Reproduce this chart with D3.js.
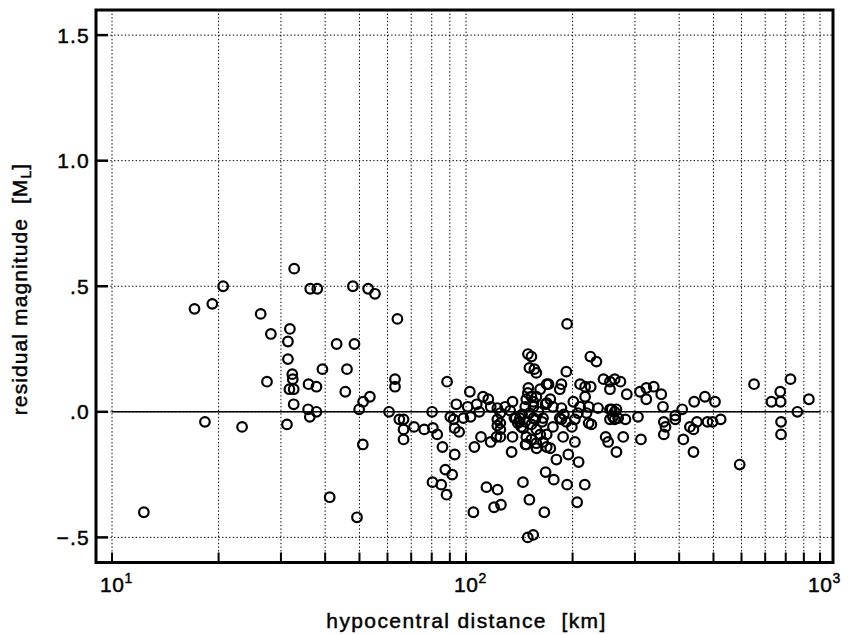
<!DOCTYPE html>
<html>
<head>
<meta charset="utf-8">
<script src="https://cdn.jsdelivr.net/npm/d3@7"></script>
<style>
  body { margin: 0; background: #fff; }
  text { font-family: "Liberation Sans", Arial, Helvetica, sans-serif; fill: #000; stroke: #000; stroke-width: 0.45px; }
</style>
</head>
<body>
<div id="chart"></div>
<script>
// hypocentral distance [km] and residual magnitude
var distance = [
    12.3, 17.1, 18.3, 19.2, 20.6, 23.3, 26.3, 27.4, 28.1,
    31.4, 31.4, 31.8, 31.2, 31.7, 32.6, 32.3, 32.4, 32.6, 32.7,
    35.9, 35.8, 36.2, 36.3, 37.8, 37.8, 38.0, 39.3,
    41.2, 43.1, 45.6, 46.1, 47.9, 48.4, 49.2, 49.9, 51.1, 51.2, 52.9, 53.5, 55.3,
    60.6, 63.0, 63.0, 64.0, 64.8, 66.6, 66.6, 66.6, 71.3, 76.2,
    80.2, 80.6, 80.4, 82.9, 85.1, 85.8, 87.4, 88.1, 88.4, 90.3, 91.4, 92.2, 92.9, 92.9, 93.9, 95.6, 98.3,
    101.1, 102.5, 103, 104.9, 105.6, 107.2, 109, 110.2, 111.7, 114.2, 115.6, 117.4, 117.4, 120, 121.9, 122.6, 122.6, 122.6, 122.8, 125.5,
    125, 125, 125, 125, 129,
    133.2, 135.3, 135.3, 134.5, 137, 138.2, 140, 141.8, 142, 143.3, 144, 144.8, 145, 147, 147, 147.3, 148, 148, 148,
    149.4, 149.5, 149.6, 150, 151, 151, 151, 153, 153, 153, 153, 154.8, 155, 155, 155, 156, 157, 158, 158, 158, 158, 158.2,
    160, 162, 162, 164, 165, 165, 166.4, 167.8, 167.8, 169, 169, 169, 169, 171, 173, 173, 176, 176, 177, 180,
    184, 184, 186, 186, 186, 188, 189, 192, 192, 193, 193, 194.5, 199, 201, 203, 203, 206, 207, 208, 210, 210,
    216.5, 217, 217, 219, 222, 222, 224.5, 225, 226, 233.5, 236,
    244.5, 248, 252, 255, 255, 255, 255, 258, 260, 263, 263, 263, 266, 266, 269, 273, 278, 282, 284.5,
    306, 310, 312, 323, 323, 339, 356, 360, 362, 362, 366, 390, 390, 408, 411, 429, 439, 439, 441, 449,
    473, 481, 497, 505, 524,
    593, 651, 729, 772, 774, 776, 776, 825, 863, 930
];
var residual = [
    -0.40, 0.41, -0.04, 0.43, 0.50, -0.06, 0.39, 0.12, 0.31,
    0.28, 0.21, 0.33, -0.05, 0.09, 0.09, 0.15, 0.13, 0.03, 0.57,
    0.11, 0.01, -0.02, 0.49, 0.10, 0.00, 0.49, 0.17,
    -0.34, 0.27, 0.08, 0.17, 0.50, 0.27, -0.42, 0.01, -0.13, 0.04, 0.49, 0.06, 0.47,
    0.00, 0.13, 0.10, 0.37, -0.03, -0.03, -0.07, -0.11, -0.06, -0.07,
    0.00, -0.064, -0.28, -0.09, -0.29, -0.14, -0.23, -0.33, 0.12, -0.02, -0.25, -0.03, -0.065, -0.17, 0.03, -0.08, -0.025,
    0.02, 0.08, -0.02, -0.40, -0.14, 0.03, 0.00, -0.10, 0.06, -0.30, 0.05, 0.02, -0.12, -0.38, -0.10, 0.015, -0.03, -0.055, -0.31, -0.37,
    -0.005, -0.045, -0.07, -0.10, 0.02,
    0.005, 0.04, -0.10, -0.16, -0.025, -0.025, -0.045, -0.04, -0.025, -0.06, -0.01, -0.28, -0.065, 0.02, -0.04, -0.13, 0.05, -0.10, -0.13,
    -0.50, 0.075, 0.23, 0.095, -0.35, -0.005, 0.175, 0.22, 0.06, -0.05, -0.11, -0.49, 0.04, 0.02, -0.025, 0.17, -0.03, 0.155, 0.06, -0.07, -0.125, -0.145,
    0.00, 0.09, -0.09, -0.04, -0.025, -0.12, -0.40, -0.24, 0.03, 0.11, 0.035, -0.09, -0.14, 0.11, 0.05, -0.145, 0.02, -0.06, -0.27, -0.19,
    0.09, -0.025, 0.11, 0.015, -0.03, -0.10, -0.01, 0.16, -0.04, 0.35, -0.29, -0.17, -0.06, 0.04, -0.03, -0.12, -0.36, -0.005, -0.20, 0.11, 0.02,
    -0.29, 0.10, 0.06, -0.005, 0.02, -0.045, 0.22, 0.10, -0.05, 0.20, 0.015,
    0.13, -0.10, -0.12, 0.12, 0.09, 0.01, -0.03, 0.01, -0.02, 0.13, 0.00, -0.03, 0.01, -0.16, -0.025, 0.12, -0.10, -0.03, 0.07,
    -0.02, 0.08, -0.11, 0.095, 0.05, 0.10, 0.07, 0.02, -0.04, -0.09, -0.06, -0.015, -0.03, 0.01, -0.11, -0.06, -0.07, -0.16, 0.04, -0.04,
    0.06, -0.04, -0.04, 0.04, -0.03,
    -0.21, 0.11, 0.04, 0.08, 0.04, -0.04, -0.09, 0.13, 0.00, 0.05
];

var yTicks = [-0.5, 0, 0.5, 1.0, 1.5];
var yTickLabels = ["\u2212.5", ".0", ".5", "1.0", "1.5"];
var xDecades = [1, 2, 3];

function init() {
    const w = 854;
    const h = 635;
    const left = 96, right = 833, top = 10, bottom = 562.5;

    var x = d3.scaleLog().domain([9.01, 1088]).range([left, right]);
    var y = d3.scaleLinear().domain([-0.6, 1.6]).range([bottom, top]);

    var svg = d3.select("#chart")
        .append("svg")
        .attr("width", w)
        .attr("height", h);

    svg.append("rect").attr("width", w).attr("height", h).attr("fill", "#fff");

    // dotted grid
    var grid = svg.append("g")
        .attr("stroke", "#000")
        .attr("stroke-width", 1)
        .attr("stroke-dasharray", "1.4,2.2");

    grid.selectAll("line.vx")
        .data(x.ticks())
        .enter()
        .append("line")
        .attr("x1", d => x(d)).attr("x2", d => x(d))
        .attr("y1", top).attr("y2", bottom);

    grid.selectAll("line.hy")
        .data(yTicks)
        .enter()
        .append("line")
        .attr("x1", left).attr("x2", right)
        .attr("y1", d => y(d)).attr("y2", d => y(d));

    // zero line
    svg.append("line")
        .attr("x1", x(10)).attr("x2", x(1000))
        .attr("y1", y(0)).attr("y2", y(0))
        .attr("stroke", "#000")
        .attr("stroke-width", 1.4);

    // points
    svg.append("g")
        .selectAll("circle")
        .data(distance)
        .enter()
        .append("circle")
        .attr("cx", d => x(d))
        .attr("cy", (d, i) => y(residual[i]))
        .attr("r", 4.8)
        .attr("fill", "none")
        .attr("stroke", "#000")
        .attr("stroke-width", 2.2);

    // ticks
    svg.append("g")
        .selectAll("line")
        .data(yTicks)
        .enter()
        .append("line")
        .attr("x1", left).attr("x2", left + 12)
        .attr("y1", d => y(d)).attr("y2", d => y(d))
        .attr("stroke", "#000")
        .attr("stroke-width", 2.5);

    svg.append("g")
        .selectAll("line")
        .data(x.ticks())
        .enter()
        .append("line")
        .attr("x1", d => x(d)).attr("x2", d => x(d))
        .attr("y1", bottom).attr("y2", bottom - 10)
        .attr("stroke", "#000")
        .attr("stroke-width", 2);

    // frame
    svg.append("rect")
        .attr("x", left).attr("y", top)
        .attr("width", right - left).attr("height", bottom - top)
        .attr("fill", "none")
        .attr("stroke", "#000")
        .attr("stroke-width", 3);

    // y tick labels
    svg.append("g")
        .selectAll("text")
        .data(yTicks)
        .enter()
        .append("text")
        .attr("x", 90)
        .attr("y", d => y(d) + 7.5)
        .attr("text-anchor", "end")
        .style("font-size", "21px")
        .style("letter-spacing", "1.2px")
        .text((d, i) => yTickLabels[i]);

    // x tick labels 10^n
    var xl = svg.append("g")
        .selectAll("text")
        .data(xDecades)
        .enter()
        .append("text")
        .attr("x", d => x(Math.pow(10, d)) - 12)
        .attr("y", 592)
        .style("font-size", "21px")
        .style("letter-spacing", "0.5px");
    xl.append("tspan").text("10");
    xl.append("tspan")
        .attr("dy", -9)
        .style("font-size", "14px")
        .text(d => d);

    // axis titles
    svg.append("text")
        .attr("x", (left + right) / 2 + 2)
        .attr("y", 628)
        .attr("text-anchor", "middle")
        .style("font-size", "21px")
        .style("letter-spacing", "1.4px")
        .style("white-space", "pre")
        .text("hypocentral distance  [km]");

    var yt = svg.append("text")
        .attr("transform", "translate(27,289) rotate(-90)")
        .attr("text-anchor", "middle")
        .style("font-size", "21px")
        .style("letter-spacing", "1.1px")
        .style("white-space", "pre");
    yt.append("tspan").text("residual magnitude  [M");
    yt.append("tspan").attr("dy", 4).style("font-size", "14px").text("L");
    yt.append("tspan").attr("dy", -4).text("]");
}
window.onload = init;
</script>
</body>
</html>
